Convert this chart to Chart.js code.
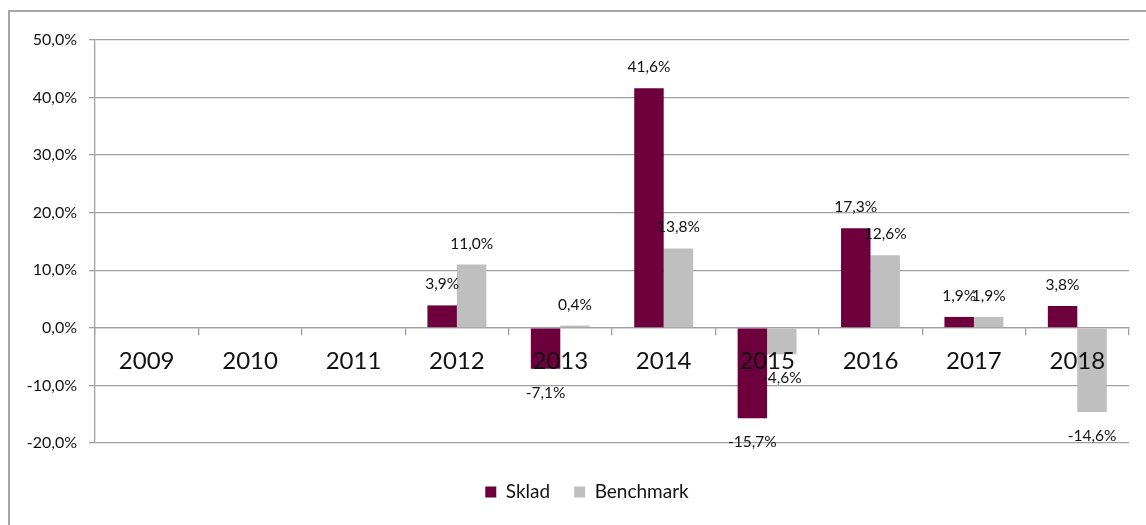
<!DOCTYPE html>
<html>
<head>
<meta charset="utf-8">
<script src="https://cdn.jsdelivr.net/npm/chart.js@4/dist/chart.umd.min.js"></script>
<style>
    body { margin: 0; background: #fff; overflow: hidden; }
    #frame { position: absolute; left: 8px; top: 10px; width: 1200px; height: 600px; border: 2px solid #a6a6a6; }
    #wrap { position: absolute; left: 0; top: 0; width: 1146px; height: 525px; }
</style>
</head>
<body>
<div id="frame"></div>
<div id="wrap"><canvas id="my_chart" width="1146" height="525"></canvas></div>
<script>
const years = ["2009", "2010", "2011", "2012", "2013", "2014", "2015", "2016", "2017", "2018"];
const sklad = [null, null, null, 3.9, -7.1, 41.6, -15.7, 17.3, 1.9, 3.8];
const benchmark = [null, null, null, 11.0, 0.4, 13.8, -4.6, 12.6, 1.9, -14.6];
const yTicks = [-20, -10, 0, 10, 20, 30, 40, 50];

const fmt = (v) => v.toFixed(1).replace(".", ",") + "%";
const gridColor = "#a0a0a0";

// value labels above / below each bar
const barLabels = {
    id: "barLabels",
    afterDatasetsDraw(chart) {
        const ctx = chart.ctx;
        ctx.save();
        ctx.font = "15.5px Lato";
        ctx.fillStyle = "#111";
        ctx.textAlign = "center";
        ctx.textBaseline = "middle";
        chart.data.datasets.forEach((ds, i) => {
            chart.getDatasetMeta(i).data.forEach((bar, j) => {
                const v = ds.data[j];
                if (v === null) return;
                const y = v >= 0 ? bar.y - 21 : bar.y + 24;
                ctx.fillText(fmt(v), bar.x, y);
            });
        });
        ctx.restore();
    }
};

// legend sits a bit right of the canvas centre, like the original
const legendShift = {
    id: "legendShift",
    afterLayout(chart) {
        chart.legend.left += 45;
    }
};

const info = {
    labels: years,
    datasets: [
        { label: "Sklad", data: sklad, backgroundColor: "#6d003c" },
        { label: "Benchmark", data: benchmark, backgroundColor: "#bfbfbf" }
    ]
};

const options = {
    responsive: false,
    animation: false,
    layout: { padding: { top: 40, right: 17, bottom: 13.5, left: 0 } },
    datasets: { bar: { categoryPercentage: 0.57, barPercentage: 1.0 } },
    scales: {
        x: {
            position: { y: 0 },
            grid: { drawOnChartArea: false, offset: true, tickLength: 7, color: gridColor, lineWidth: 1.3 },
            border: { display: true, color: gridColor, width: 1.3 },
            ticks: { z: 1, padding: 12.5, color: "#111", font: { family: "Lato", size: 24 } }
        },
        y: {
            min: -20,
            max: 50,
            afterBuildTicks: (axis) => { axis.ticks = yTicks.map((v) => ({ value: v })); },
            afterFit: (axis) => { axis.width = 95; },
            grid: { color: gridColor, lineWidth: 1.3, tickLength: 6 },
            border: { display: true, color: gridColor, width: 1.3 },
            ticks: { padding: 12, color: "#111", font: { family: "Lato", size: 16 }, callback: (v) => fmt(v) }
        }
    },
    plugins: {
        legend: {
            position: "bottom",
            title: { display: true, text: "", font: { size: 10 }, padding: { top: 0, bottom: 3.5 } },
            labels: { boxWidth: 11, boxHeight: 11, padding: 24, color: "#111", font: { family: "Lato", size: 19 } }
        },
        tooltip: { enabled: false }
    }
};

const config = {
    type: "bar",
    data: info,
    options,
    plugins: [barLabels, legendShift]
};
const myChart = new Chart(document.getElementById("my_chart"), config);
</script>
</body>
</html>
